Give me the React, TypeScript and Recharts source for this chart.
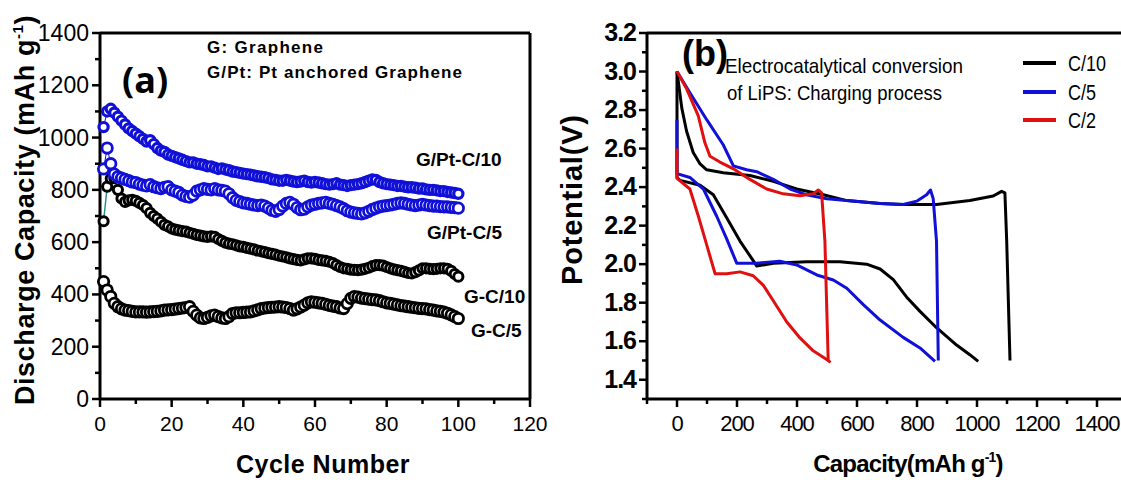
import { Line, LineChart, ReferenceLine, XAxis, YAxis } from "recharts";

const BLUE = "#1010d8";
const RED = "#e01010";
const FONT = "'Liberation Sans', Arial, sans-serif";

// panel (a): discharge capacity per cycle
const CYCLES = Array.from({ length: 100 }, (_, i) => i + 1);

const GPT_C10 = [
  1040, 1100, 1110, 1095, 1080, 1065, 1050, 1035, 1025, 1015,
  1005, 995, 985, 990, 975, 960, 950, 945, 935, 930,
  925, 920, 915, 910, 905, 905, 900, 898, 895, 890,
  890, 885, 880, 882, 878, 875, 870, 868, 865, 862,
  860, 858, 855, 852, 850, 848, 845, 840, 838, 835,
  835, 838, 835, 832, 830, 832, 835, 830, 828, 830,
  828, 825, 822, 820, 822, 825, 820, 818, 815, 818,
  820, 822, 825, 830, 835, 840, 838, 830, 825, 822,
  820, 818, 815, 815, 812, 810, 810, 808, 805, 805,
  802, 800, 800, 798, 795, 795, 792, 790, 788, 785,
];

const GPT_C5 = [
  880, 960, 900, 860, 850, 845, 840, 835, 830, 828,
  822, 818, 815, 820, 812, 808, 805, 810, 812, 800,
  795, 790, 780, 775, 772, 780, 795, 800, 805, 802,
  800, 805, 800, 798, 795, 785, 770, 760, 755, 750,
  748, 745, 742, 740, 742, 738, 730, 722, 718, 725,
  738, 748, 752, 745, 732, 724, 726, 735, 742, 745,
  748, 750, 752, 748, 745, 740, 735, 728, 720, 715,
  712, 710, 708, 712, 718, 725, 730, 735, 738, 740,
  742, 745, 748, 750, 748, 745, 742, 740, 742, 745,
  742, 740, 738, 738, 736, 735, 735, 733, 732, 730,
];

const G_C10 = [
  680, 812, 843, 845, 800, 767, 754, 760, 762, 758,
  750, 742, 730, 712, 700, 690, 678, 666, 660, 652,
  648, 645, 642, 640, 636, 632, 628, 625, 622, 620,
  622, 620, 612, 605, 598, 594, 592, 588, 584, 582,
  578, 575, 572, 568, 565, 562, 558, 555, 552, 548,
  545, 542, 538, 535, 532, 530, 534, 538, 538, 536,
  532, 530, 528, 525, 520, 512, 505, 500, 498, 495,
  494, 493, 495, 498, 502, 508, 512, 512, 510, 505,
  500, 496, 493, 490, 486, 482, 480, 485, 492, 500,
  500, 498, 497, 498, 500, 500, 498, 490, 478, 468,
];

const G_C5 = [
  449, 417, 392, 366, 353, 345, 340, 338, 335, 333,
  333, 333, 332, 333, 334, 335, 337, 340, 341, 342,
  344, 346, 348, 350, 353, 335, 321, 310, 308, 312,
  318, 321, 315, 310, 308, 315, 327, 330, 330, 331,
  332, 333, 337, 341, 346, 348, 350, 351, 352, 353,
  352, 350, 346, 340, 345, 352, 359, 368, 372, 370,
  368, 366, 362, 358, 355, 353, 348, 346, 365, 385,
  392, 390, 386, 384, 382, 380, 379, 376, 372, 368,
  366, 363, 360, 357, 355, 353, 351, 349, 347, 346,
  345, 342, 340, 337, 335, 332, 328, 322, 315, 308,
];

const A_X_TICKS = [0, 10, 20, 30, 40, 50, 60, 70, 80, 90, 100, 110, 120];
const A_Y_TICKS = [0, 100, 200, 300, 400, 500, 600, 700, 800, 900, 1000, 1100, 1200, 1300, 1400];

// panel (b): potential vs capacity, [capacity, potential]
const C10_UPPER = [
  [0, 3.0], [16, 2.81], [32, 2.69], [54, 2.58], [77, 2.52], [99, 2.49], [154, 2.475],
  [243, 2.46], [321, 2.43], [399, 2.39], [488, 2.36], [566, 2.33], [677, 2.315],
  [754, 2.31], [865, 2.31], [976, 2.33], [1054, 2.354], [1082, 2.378], [1093, 2.37],
  [1099, 2.12], [1110, 1.5],
];
const C10_LOWER = [
  [0, 3.0], [0, 2.45], [10, 2.435], [77, 2.41], [121, 2.36], [166, 2.24], [210, 2.12],
  [249, 2.03], [266, 1.99], [321, 2.005], [432, 2.013], [543, 2.013], [632, 2.0],
  [677, 1.975], [721, 1.92], [765, 1.83], [810, 1.755], [865, 1.67], [932, 1.58],
  [976, 1.53], [1004, 1.495],
];
const C5_UPPER = [
  [0, 3.0], [43, 2.89], [99, 2.75], [154, 2.62], [188, 2.51], [232, 2.49], [266, 2.48],
  [321, 2.44], [377, 2.39], [432, 2.36], [499, 2.34], [566, 2.33], [677, 2.315],
  [754, 2.31], [799, 2.327], [832, 2.36], [845, 2.385], [854, 2.34], [865, 2.12], [871, 1.5],
];
const C5_LOWER = [
  [0, 2.75], [0, 2.47], [43, 2.45], [88, 2.39], [132, 2.25], [166, 2.13], [199, 2.005],
  [266, 2.005], [343, 2.015], [399, 1.996], [466, 1.944], [521, 1.918], [566, 1.875],
  [621, 1.79], [677, 1.71], [754, 1.62], [810, 1.565], [860, 1.495],
];
const C2_UPPER = [
  [0, 3.0], [32, 2.91], [71, 2.77], [93, 2.63], [110, 2.56], [143, 2.53], [188, 2.495],
  [243, 2.44], [299, 2.39], [354, 2.365], [410, 2.355], [454, 2.366], [471, 2.385],
  [482, 2.37], [493, 2.12], [504, 1.5],
];
const C2_LOWER = [
  [0, 2.6], [0, 2.445], [43, 2.39], [71, 2.25], [99, 2.1], [127, 1.95], [166, 1.95],
  [210, 1.96], [254, 1.94], [288, 1.89], [321, 1.81], [366, 1.7], [410, 1.617],
  [454, 1.55], [499, 1.505], [512, 1.49],
];

const B_X_TICKS = [-100, 0, 100, 200, 300, 400, 500, 600, 700, 800, 900, 1000, 1100, 1200, 1300, 1400, 1500];
const B_Y_TICKS = [1.3, 1.4, 1.5, 1.6, 1.7, 1.8, 1.9, 2.0, 2.1, 2.2, 2.3, 2.4, 2.5, 2.6, 2.7, 2.8, 2.9, 3.0, 3.1, 3.2];

const cycleRows = CYCLES.map((c, i) => ({
  cycle: c,
  gpt10: GPT_C10[i],
  gpt5: GPT_C5[i],
  gc10: G_C10[i],
  gc5: G_C5[i],
}));

const toPts = (arr: number[][]) => arr.map(([cap, v]) => ({ cap, v }));

function xTick(isMajor: (v: number) => boolean, label: (v: number) => string, style: any) {
  return (p: any) => {
    const v = p.payload.value;
    const major = isMajor(v);
    return (
      <g>
        <line x1={p.x} x2={p.x} y1={p.y} y2={p.y + (major ? 8 : 5)} stroke="#000" strokeWidth={2.5} />
        {major && (
          <text x={p.x} y={p.y + 32} textAnchor="middle" fill="#000" style={style}>
            {label(v)}
          </text>
        )}
      </g>
    );
  };
}

function yTick(isMajor: (v: number) => boolean, label: (v: number) => string, style: any) {
  return (p: any) => {
    const v = p.payload.value;
    const major = isMajor(v);
    return (
      <g>
        <line x1={p.x} x2={p.x - (major ? 8 : 5)} y1={p.y} y2={p.y} stroke="#000" strokeWidth={2.5} />
        {major && (
          <text x={p.x - 11} y={p.y + 8} textAnchor="end" fill="#000" style={style}>
            {label(v)}
          </text>
        )}
      </g>
    );
  };
}

const dotStyle = (c: string, r: number, w = 2.8) => ({ r, fill: "#fff", stroke: c, strokeWidth: w });

function PanelA() {
  const tickStyle = { fontFamily: FONT, fontSize: 21 };
  return (
    <LineChart
      width={560}
      height={480}
      data={cycleRows}
      margin={{ top: 33, right: 30, bottom: 51, left: 40 }}
    >
      <XAxis
        type="number"
        dataKey="cycle"
        domain={[0, 120]}
        ticks={A_X_TICKS}
        interval={0}
        height={30}
        tickSize={0}
        tickMargin={0}
        tickLine={false}
        axisLine={{ stroke: "#000", strokeWidth: 3 }}
        tick={xTick((v) => v % 20 === 0, (v) => String(v), tickStyle)}
      />
      <YAxis
        type="number"
        domain={[0, 1400]}
        ticks={A_Y_TICKS}
        interval={0}
        width={60}
        tickSize={0}
        tickMargin={0}
        tickLine={false}
        axisLine={{ stroke: "#000", strokeWidth: 3 }}
        tick={yTick((v) => v % 200 === 0, (v) => String(v), { ...tickStyle, fontSize: 23 })}
      />
      <ReferenceLine y={1400} stroke="#000" strokeWidth={3} />
      <ReferenceLine x={120} stroke="#000" strokeWidth={3} />
      <Line dataKey="gc5" stroke="#000" strokeWidth={1} dot={dotStyle("#000", 5.2)} isAnimationActive={false} />
      <Line dataKey="gc10" stroke="#2a9090" strokeWidth={1.5} dot={dotStyle("#000", 4.6, 3)} isAnimationActive={false} />
      <Line dataKey="gpt5" stroke={BLUE} strokeWidth={1} dot={dotStyle(BLUE, 5.2)} isAnimationActive={false} />
      <Line dataKey="gpt10" stroke={BLUE} strokeWidth={1} dot={dotStyle(BLUE, 4.6, 3.2)} isAnimationActive={false} />
    </LineChart>
  );
}

function PanelB() {
  const xStyle = { fontFamily: FONT, fontSize: 22, letterSpacing: -1 };
  const yStyle = { fontFamily: FONT, fontSize: 25, fontWeight: 700, letterSpacing: -1 };
  const series = [
    { data: C10_UPPER, color: "#000" },
    { data: C10_LOWER, color: "#000" },
    { data: C5_UPPER, color: BLUE },
    { data: C5_LOWER, color: BLUE },
    { data: C2_UPPER, color: RED },
    { data: C2_LOWER, color: RED },
  ];
  return (
    <LineChart width={600} height={480} margin={{ top: 33, right: 33, bottom: 51, left: 27 }}>
      <XAxis
        type="number"
        dataKey="cap"
        domain={[-100, 1500]}
        ticks={B_X_TICKS}
        interval={0}
        height={30}
        tickSize={0}
        tickMargin={0}
        tickLine={false}
        allowDataOverflow
        axisLine={{ stroke: "#000", strokeWidth: 3 }}
        tick={xTick((v) => v >= 0 && v % 200 === 0, (v) => String(v), xStyle)}
      />
      <YAxis
        type="number"
        dataKey="v"
        domain={[1.3, 3.2]}
        ticks={B_Y_TICKS}
        interval={0}
        width={60}
        tickSize={0}
        tickMargin={0}
        tickLine={false}
        allowDataOverflow
        axisLine={{ stroke: "#000", strokeWidth: 3 }}
        tick={yTick((v) => Math.round(v * 10) % 2 === 0, (v) => v.toFixed(1), yStyle)}
      />
      <ReferenceLine y={3.2} stroke="#000" strokeWidth={3} />
      {series.map((s, i) => (
        <Line
          key={i}
          data={toPts(s.data)}
          dataKey="v"
          type="linear"
          stroke={s.color}
          strokeWidth={3}
          strokeLinejoin="round"
          dot={false}
          isAnimationActive={false}
        />
      ))}
    </LineChart>
  );
}

function Overlay() {
  const bold = { fontFamily: FONT, fontWeight: 700 };
  return (
    <svg
      width={1121}
      height={480}
      style={{ position: "absolute", left: 0, top: 0, pointerEvents: "none" }}
    >
      {/* panel (a) */}
      <text x={122} y={93} style={{ ...bold, fontFamily: "'Open Sans', sans-serif", fontSize: 36 }}>(a)</text>
      <text x={207} y={53} textLength={116} style={{ ...bold, fontSize: 17 }}>G: Graphene</text>
      <text x={207} y={78} textLength={255} style={{ ...bold, fontSize: 17 }}>G/Pt: Pt anchored Graphene</text>
      <text x={416} y={166} style={{ ...bold, fontSize: 19 }}>G/Pt-C/10</text>
      <text x={427} y={239} style={{ ...bold, fontSize: 19 }}>G/Pt-C/5</text>
      <text x={464} y={303} style={{ ...bold, fontSize: 19 }}>G-C/10</text>
      <text x={471} y={337} style={{ ...bold, fontSize: 19 }}>G-C/5</text>
      <text x={323} y={473} textAnchor="middle" style={{ ...bold, fontSize: 25, letterSpacing: 0.5 }}>
        Cycle Number
      </text>
      <text
        transform="translate(34,210) rotate(-90)"
        textAnchor="middle"
        style={{ ...bold, fontSize: 27, letterSpacing: 0.6 }}
      >
        Discharge Capacity (mAh g<tspan dy={-11} fontSize={15}>-1</tspan>
        <tspan dy={11}>)</tspan>
      </text>

      {/* panel (b) */}
      <text x={682} y={66} style={{ ...bold, fontSize: 36 }}>(b)</text>
      <text x={725} y={73} textLength={238} lengthAdjust="spacingAndGlyphs" style={{ fontFamily: FONT, fontSize: 21 }}>
        Electrocatalytical conversion
      </text>
      <text x={727} y={100} textLength={215} lengthAdjust="spacingAndGlyphs" style={{ fontFamily: FONT, fontSize: 21 }}>
        of LiPS: Charging process
      </text>
      {[
        { label: "C/10", color: "#000", y: 63, w: 38 },
        { label: "C/5", color: BLUE, y: 92, w: 28 },
        { label: "C/2", color: RED, y: 120, w: 28 },
      ].map((l) => (
        <g key={l.label}>
          <line x1={1023} x2={1056} y1={l.y} y2={l.y} stroke={l.color} strokeWidth={4} />
          <text x={1068} y={l.y + 8} textLength={l.w} lengthAdjust="spacingAndGlyphs" style={{ fontFamily: FONT, fontSize: 22 }}>
            {l.label}
          </text>
        </g>
      ))}
      <text
        transform="translate(582,200) rotate(-90)"
        textAnchor="middle"
        textLength={170}
        style={{ ...bold, fontSize: 29 }}
      >
        Potential(V)
      </text>
      <text x={908} y={472} textAnchor="middle" style={{ ...bold, fontSize: 24, letterSpacing: -0.8 }}>
        Capacity(mAh g<tspan dy={-10} fontSize={14}>-1</tspan>
        <tspan dy={10}>)</tspan>
      </text>
    </svg>
  );
}

export default function App() {
  return (
    <div
      style={{
        position: "fixed",
        left: 0,
        top: 0,
        width: 1121,
        height: 480,
        overflow: "hidden",
        background: "#fff",
      }}
    >
      <div style={{ position: "absolute", left: 0, top: 0 }}>
        <PanelA />
      </div>
      <div style={{ position: "absolute", left: 560, top: 0 }}>
        <PanelB />
      </div>
      <Overlay />
    </div>
  );
}
